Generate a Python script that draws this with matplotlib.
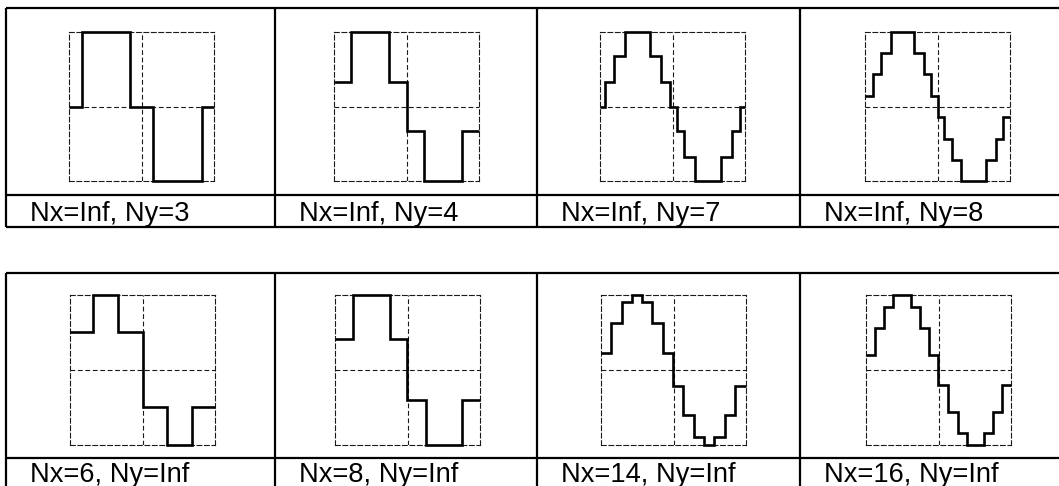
import matplotlib.pyplot as plt

W, H = 1059, 486
DPI = 100

# quantised sine panels: step edges (fraction of one period) and held levels
labels = ['Nx=Inf, Ny=3', 'Nx=Inf, Ny=4', 'Nx=Inf, Ny=7', 'Nx=Inf, Ny=8',
          'Nx=6, Ny=Inf', 'Nx=8, Ny=Inf', 'Nx=14, Ny=Inf', 'Nx=16, Ny=Inf']

edges_ny3 = [0, 0.09, 0.42, 0.58, 0.92, 1]
levels_ny3 = [0, 1, 0, -1, 0]

edges_ny4 = [0, 0.12, 0.38, 0.50, 0.62, 0.88, 1]
levels_ny4 = [0.33, 1, 0.33, -0.33, -1, -0.33]

edges_ny7 = [0, 0.032, 0.096, 0.169, 0.348, 0.423, 0.485, 0.531, 0.581,
             0.652, 0.833, 0.908, 0.963, 1]
levels_ny7 = [0, 0.33, 0.67, 1, 0.67, 0.33, 0, -0.33, -0.67, -1, -0.67,
              -0.33, 0]

edges_ny8 = [0, 0.055, 0.110, 0.182, 0.338, 0.407, 0.457, 0.503, 0.545,
             0.602, 0.664, 0.832, 0.901, 0.952, 1]
levels_ny8 = [0.14, 0.43, 0.71, 1, 0.71, 0.43, 0.14, -0.14, -0.43, -0.71,
              -1, -0.71, -0.43, -0.14]

edges_nx6 = [0, 0.161, 0.333, 0.50, 0.667, 0.839, 1]
levels_nx6 = [0.5, 1, 0.5, -0.5, -1, -0.5]

edges_nx8 = [0, 0.126, 0.382, 0.499, 0.629, 0.876, 1]
levels_nx8 = [0.41, 1, 0.41, -0.41, -1, -0.41]

edges_nx14 = [0, 0.069, 0.143, 0.214, 0.28, 0.349, 0.425, 0.494, 0.568,
              0.639, 0.713, 0.782, 0.855, 0.926, 1]
levels_nx14 = [0.22, 0.62, 0.90, 1.0, 0.90, 0.62, 0.22, -0.22, -0.61,
               -0.90, -1.0, -0.90, -0.61, -0.22]

edges_nx16 = [0, 0.062, 0.122, 0.189, 0.310, 0.375, 0.437, 0.494, 0.563,
              0.632, 0.697, 0.816, 0.878, 0.936, 1]
levels_nx16 = [0.2, 0.56, 0.83, 1, 0.83, 0.56, 0.2, -0.2, -0.56, -0.85,
               -1, -0.85, -0.56, -0.2]

all_edges = [edges_ny3, edges_ny4, edges_ny7, edges_ny8,
             edges_nx6, edges_nx8, edges_nx14, edges_nx16]
all_levels = [levels_ny3, levels_ny4, levels_ny7, levels_ny8,
              levels_nx6, levels_nx8, levels_nx14, levels_nx16]

# layout (pixels)
col_x = [6, 275, 537, 800, 1063]
table_rows = [(8.5, 195, 227), (273, 458.3, 491)]
box_left = [[69, 334, 600, 865], [70, 335, 601, 866]]
box_top = [31.5, 294.5]
box_w, box_h = 145, 150
label_base = [221, 481.5]

plt.rcParams['font.family'] = ['Liberation Sans', 'DejaVu Sans']
fig = plt.figure(figsize=(W / DPI, H / DPI), dpi=DPI)

# table frame
bg = fig.add_axes([0, 0, 1, 1])
bg.set_xlim(0, W)
bg.set_ylim(H, 0)
bg.axis('off')
for top, mid, bot in table_rows:
    bg.hlines([top, mid, bot], col_x[0], col_x[-1], color='black', lw=1.6)
    bg.vlines(col_x, top, bot, color='black', lw=1.6)

for i in range(8):
    r, c = divmod(i, 4)
    l = box_left[r][c]
    t = box_top[r]
    ax = fig.add_axes([l / W, 1 - (t + box_h) / H, box_w / W, box_h / H])
    ax.set_xlim(0, 1)
    ax.set_ylim(-1, 1)
    ax.set_xticks([])
    ax.set_yticks([])
    ax.patch.set_alpha(0)
    for sp in ax.spines.values():
        sp.set_linestyle((0, (4.3, 2.4)))
        sp.set_linewidth(0.8)
        sp.set_color('#1a1a1a')
    ax.axvline(0.5, color='#1a1a1a', lw=0.8, ls=(0, (4.3, 2.4)))
    ax.axhline(0, color='#1a1a1a', lw=0.8, ls=(0, (4.3, 2.4)))
    st = ax.stairs(all_levels[i], all_edges[i], baseline=None,
                   color='black', lw=1.9, zorder=5)
    st.set_clip_on(False)
    fig.text((col_x[c] + 24) / W, 1 - label_base[r] / H, labels[i],
             fontsize=19.6, va='baseline', ha='left', color='black')

fig.savefig('out.png', dpi=DPI)
